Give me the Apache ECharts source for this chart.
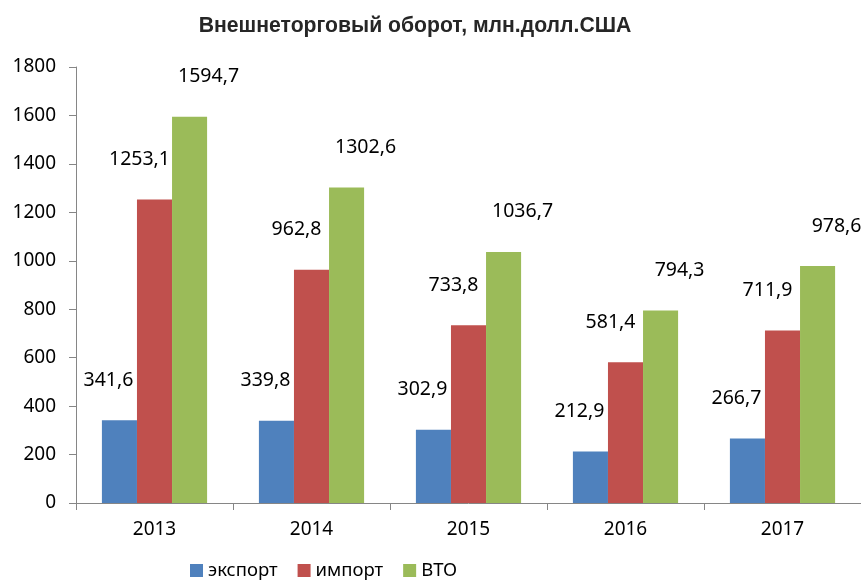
<!DOCTYPE html>
<html>
<head>
<meta charset="utf-8">
<script src="https://cdn.jsdelivr.net/npm/echarts@6/dist/echarts.min.js"></script>
<style>
  html, body { margin: 0; padding: 0; background: #fff; }
  #chart { width: 861px; height: 581px; }
</style>
</head>
<body>
<div id="chart"></div>
<script>
var years = ['2013', '2014', '2015', '2016', '2017'];
var exportData = [341.6, 339.8, 302.9, 212.9, 266.7];
var importData = [1253.1, 962.8, 733.8, 581.4, 711.9];
var vtoData = [1594.7, 1302.6, 1036.7, 794.3, 978.6];

var font = 'Noto Sans';

function fmt(p) {
  return p.value.toFixed(1).replace('.', ',');
}

function barLabel(dx) {
  return {
    show: true,
    position: 'top',
    distance: 30,
    offset: [dx, 0],
    formatter: fmt,
    color: '#000',
    fontFamily: font,
    fontSize: 19.5
  };
}

var myChart = echarts.init(document.getElementById('chart'));
myChart.setOption({
  animation: false,
  title: {
    text: 'Внешнеторговый оборот, млн.долл.США',
    left: 410,
    textAlign: 'center',
    top: 11,
    textStyle: {
      fontFamily: 'Liberation Sans',
      fontWeight: 'bold',
      fontSize: 21.2,
      color: '#262626'
    }
  },
  legend: {
    data: ['экспорт', 'импорт', 'ВТО'],
    left: 185,
    top: 556,
    icon: 'rect',
    itemWidth: 13,
    itemHeight: 13,
    itemGap: 20,
    textStyle: { fontFamily: font, fontSize: 18.5, color: '#000' }
  },
  grid: {
    left: 76,
    right: 0,
    top: 67,
    bottom: 78
  },
  xAxis: {
    type: 'category',
    data: years,
    axisLine: { lineStyle: { color: '#868686', width: 1 } },
    axisTick: { show: true, length: 7, lineStyle: { color: '#868686' } },
    axisLabel: { color: '#000', fontFamily: font, fontSize: 19, margin: 17 }
  },
  yAxis: {
    type: 'value',
    min: 0,
    max: 1800,
    interval: 200,
    splitLine: { show: false },
    axisLine: { show: true, lineStyle: { color: '#868686', width: 1 } },
    axisTick: { show: true, length: 7, lineStyle: { color: '#868686' } },
    axisLabel: {
      color: '#000', fontFamily: font, fontSize: 19, margin: 20,
      formatter: function (v) { return String(v); }
    }
  },
  series: [
    {
      name: 'экспорт',
      type: 'bar',
      data: exportData,
      barGap: '0%',
      barCategoryGap: '33%',
      itemStyle: { color: '#4F81BD' },
      label: barLabel(-11)
    },
    {
      name: 'импорт',
      type: 'bar',
      data: importData,
      itemStyle: { color: '#C0504D' },
      label: barLabel(-15)
    },
    {
      name: 'ВТО',
      type: 'bar',
      data: vtoData,
      itemStyle: { color: '#9BBB59' },
      label: barLabel(19)
    }
  ]
});
</script>
</body>
</html>
